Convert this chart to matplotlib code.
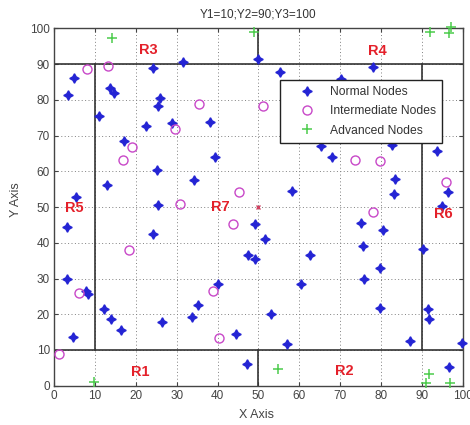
import matplotlib
matplotlib.use("Agg")
import matplotlib.pyplot as plt

plt.rcParams['font.family'] = ['Liberation Sans', 'DejaVu Sans']

title = "Y1=10;Y2=90;Y3=100"
x_label = "X Axis"
y_label = "Y Axis"
legend_labels = ["Normal Nodes", "Intermediate Nodes", "Advanced Nodes"]
ticks = [0, 10, 20, 30, 40, 50, 60, 70, 80, 90, 100]

normal_x = [3.5, 5.0, 5.4, 11.1, 13.7, 14.7, 17.1, 12.9, 22.5, 24.3, 25.9, 25.5, 28.8, 25.3,
            31.6, 34.3, 38.1, 39.4, 25.5, 3.3, 3.1, 7.8, 8.4, 4.7, 12.3, 13.9, 16.3, 24.2,
            26.5, 33.7, 35.3, 40.1, 44.4, 50.0, 55.3, 58.3, 65.3, 49.2, 51.5, 47.4, 49.1,
            62.5, 60.3, 57.0, 53.0, 47.2, 78.1, 70.3, 68.0, 82.6, 93.6, 83.4, 83.2, 96.4,
            75.1, 80.4, 75.6, 79.7, 75.9, 79.7, 90.3, 91.5, 91.8, 87.0, 99.9, 96.6, 94.8]
normal_y = [81.4, 86.1, 52.8, 75.4, 83.3, 81.9, 68.6, 56.2, 72.7, 88.9, 80.6, 78.3, 73.4, 60.3,
            90.5, 57.7, 73.9, 64.0, 50.6, 44.5, 29.9, 26.5, 25.6, 13.6, 21.5, 18.6, 15.6, 42.5,
            17.8, 19.3, 22.5, 28.5, 14.4, 91.4, 87.7, 54.4, 67.2, 45.2, 41.0, 36.7, 35.4,
            36.7, 28.5, 11.7, 20.0, 6.0, 89.1, 85.8, 63.9, 67.4, 65.8, 57.8, 53.6, 54.3,
            45.5, 43.6, 39.2, 32.9, 29.9, 21.7, 38.2, 21.5, 18.6, 12.6, 12.0, 5.3, 50.3]

inter_x = [8.1, 13.1, 19.0, 16.9, 29.6, 35.4, 30.7, 45.2, 1.3, 6.1, 18.3, 43.7, 39.0, 40.3,
           51.2, 73.6, 79.7, 95.8, 77.9]
inter_y = [88.7, 89.6, 66.8, 63.2, 71.9, 78.8, 50.8, 54.2, 8.9, 26.0, 38.0, 45.2, 26.6, 13.4,
           78.4, 63.2, 62.9, 56.9, 48.6]

adv_x = [14.3, 48.9, 91.9, 96.5, 97.2, 9.9, 54.9, 91.8, 91.0, 96.8]
adv_y = [97.3, 99.0, 99.1, 98.6, 100.3, 1.1, 4.7, 3.2, 0.8, 0.7]

sink_x = [50.0]
sink_y = [50.0]

# region boundaries: (x0, x1, y0, y1)
region_lines = [
    (0, 100, 10, 10), (0, 100, 90, 90),
    (10, 10, 10, 90), (90, 90, 10, 90),
    (50, 50, 0, 10), (50, 50, 90, 100),
]
region_names = ["R1", "R2", "R3", "R4", "R5", "R6", "R7"]
region_x = [21.0, 71.1, 23.0, 79.0, 4.9, 95.2, 40.6]
region_y = [3.9, 4.2, 94.0, 93.6, 49.7, 48.1, 50.0]

fig = plt.figure(figsize=(4.7, 4.25), dpi=100)
ax = fig.add_axes([0.1149, 0.0925, 0.870, 0.8405])

ax.set_xlim(0, 100)
ax.set_ylim(0, 100)
ax.set_xticks(ticks)
ax.set_yticks(ticks)
ax.grid(True, linestyle=(0, (1, 2.5)), color='#808080', linewidth=0.7)
ax.set_axisbelow(True)

for (x0, x1, y0, y1) in region_lines:
    ax.plot([x0, x1], [y0, y1], color='#333333', linewidth=1.2, zorder=2)

h1, = ax.plot(normal_x, normal_y, linestyle='none', marker=(4, 1, 0), markersize=6.8,
              color='#2424d4', zorder=3, clip_on=False)
h2, = ax.plot(inter_x, inter_y, linestyle='none', marker='o', markersize=6.5,
              markerfacecolor='none', markeredgecolor='#c848c8', markeredgewidth=1.0,
              zorder=3, clip_on=False)
h3, = ax.plot(adv_x, adv_y, linestyle='none', marker='+', markersize=7,
              color='#4ccc4c', markeredgewidth=1.1, zorder=3, clip_on=False)
ax.plot(sink_x, sink_y, linestyle='none', marker='x', markersize=3.5, color='#d04060',
        markeredgewidth=1.0, zorder=3)

for name, rx, ry in zip(region_names, region_x, region_y):
    ax.text(rx, ry, name, color='#e4202a', fontsize=10.5, fontweight='bold',
            ha='center', va='center', zorder=4)

leg = ax.legend([h1, h2, h3], legend_labels, loc='upper left',
                bbox_to_anchor=(0.5526, 0.8558), borderaxespad=0,
                fontsize=8.7, frameon=True, fancybox=False, framealpha=1,
                edgecolor='#222222', borderpad=0.5, handlelength=3.4,
                handletextpad=0.2, labelspacing=0.6)
leg.get_frame().set_linewidth(1.0)
leg.set_zorder(5)
for t in leg.get_texts():
    t.set_color('#333333')

ax.set_title(title, fontsize=8.5, color='#333333', pad=8)
ax.set_xlabel(x_label, fontsize=9, color='#444444')
ax.set_ylabel(y_label, fontsize=9, color='#444444')
ax.xaxis.set_label_coords(0.495, -0.065)
ax.yaxis.set_label_coords(-0.078, 0.52)

ax.tick_params(direction='in', top=True, right=True, length=3, width=0.8,
               labelsize=8.5, labelcolor='#444444', color='#444444', pad=3)
for s in ax.spines.values():
    s.set_color('#444444')
    s.set_linewidth(1.0)

fig.savefig("out.png", dpi=100)
